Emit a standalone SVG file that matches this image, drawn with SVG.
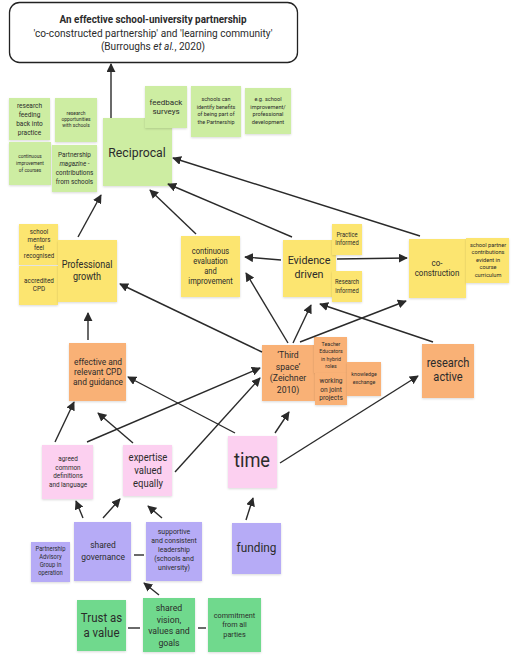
<svg xmlns="http://www.w3.org/2000/svg" width="520" height="662" viewBox="0 0 520 662">
<style>
text{font-family:Roboto,"Noto Sans","DejaVu Sans",sans-serif;fill:#2b2b2b;text-anchor:middle}
.lg{fill:#cdeda2}
.ye{fill:#fce56f}
.or{fill:#f9b176}
.pk{fill:#fcd0f0}
.pu{fill:#b6abf6}
.gr{fill:#6fd98d}
.n rect{filter:url(#sh)}
.c line{stroke:#2a2a2a;stroke-width:1.4;fill:none}
.c .a{marker-end:url(#ah)}
</style>
<defs>
<marker id="ah" viewBox="0 0 10 10" refX="9" refY="5" markerWidth="9" markerHeight="9" markerUnits="userSpaceOnUse" orient="auto">
<path d="M0,0 L10,5 L0,10 z" fill="#2a2a2a"/>
</marker>
<filter id="sh" x="-10%" y="-10%" width="130%" height="130%">
<feDropShadow dx="0" dy="1" stdDeviation="0.8" flood-color="#000" flood-opacity="0.15"/>
</filter>
</defs>
<rect width="520" height="662" fill="#fff"/>

<g id="title">
<rect x="9.5" y="2.5" width="288" height="60" rx="10" fill="#fff" stroke="#222" stroke-width="1.3"/>
<text transform="matrix(.9 0 0 1 153 0)" font-size="11" font-weight="bold"><tspan x="0" y="23">An effective school-university partnership</tspan></text>
<text transform="matrix(.92 0 0 1 153 0)" font-size="11"><tspan x="0" y="37">'co-constructed partnership' and 'learning community'</tspan><tspan x="0" y="50">(Burroughs <tspan font-style="italic">et al.</tspan>, 2020)</tspan></text>
</g>

<g class="n">
<g id="research-feeding"><rect class="lg" x="9" y="98" width="41" height="42"/>
<text transform="matrix(.91 0 0 1 29.5 0)" font-size="7.2"><tspan x="0" y="108.5">research</tspan><tspan x="0" y="117.5">feeding</tspan><tspan x="0" y="126.5">back into</tspan><tspan x="0" y="135.5">practice</tspan></text></g>
<g id="continuous-improvement-courses"><rect class="lg" x="9" y="142" width="42" height="43"/>
<text transform="matrix(.91 0 0 1 30 0)" font-size="5.2"><tspan x="0" y="158">continuous</tspan><tspan x="0" y="165">improvement</tspan><tspan x="0" y="172">of courses</tspan></text></g>
<g id="research-opportunities"><rect class="lg" x="55" y="98" width="42" height="44"/>
<text transform="matrix(.93 0 0 1 76 0)" font-size="5.3"><tspan x="0" y="114.7">research</tspan><tspan x="0" y="121">opportunities</tspan><tspan x="0" y="127.3">with schools</tspan></text></g>
<g id="partnership-magazine"><rect class="lg" x="52" y="145" width="45" height="47"/>
<text transform="matrix(.91 0 0 1 74.5 0)" font-size="7"><tspan x="0" y="157.5">Partnership</tspan><tspan x="0" y="166.2" font-style="italic">magazine -</tspan><tspan x="0" y="174.9">contributions</tspan><tspan x="0" y="183.6">from schools</tspan></text></g>
<g id="reciprocal"><rect class="lg" x="103" y="118" width="69" height="68"/>
<text transform="matrix(.91 0 0 1 137 0)" font-size="13.5"><tspan x="0" y="157">Reciprocal</tspan></text></g>
<g id="feedback-surveys"><rect class="lg" x="145" y="86" width="42" height="42"/>
<text transform="matrix(1 0 0 1 166 0)" font-size="8"><tspan x="0" y="104.5">feedback</tspan><tspan x="0" y="114">surveys</tspan></text></g>
<g id="schools-identify"><rect class="lg" x="191" y="86" width="50" height="51"/>
<text transform="matrix(.91 0 0 1 216 0)" font-size="6"><tspan x="0" y="101">schools can</tspan><tspan x="0" y="108.7">identify benefits</tspan><tspan x="0" y="116.4">of being part of</tspan><tspan x="0" y="124.1">the Partnership</tspan></text></g>
<g id="eg-school-improvement"><rect class="lg" x="245" y="88" width="46" height="46"/>
<text transform="matrix(.91 0 0 1 268 0)" font-size="6.2"><tspan x="0" y="101">e.g. school</tspan><tspan x="0" y="108.7">improvement/</tspan><tspan x="0" y="116.4">professional</tspan><tspan x="0" y="124.1">development</tspan></text></g>

<g id="mentors-recognised"><rect class="ye" x="19" y="224" width="39" height="41"/>
<text transform="matrix(.92 0 0 1 39 0)" font-size="6.7"><tspan x="0" y="234">school</tspan><tspan x="0" y="242">mentors</tspan><tspan x="0" y="250">feel</tspan><tspan x="0" y="258">recognised</tspan></text></g>
<g id="accredited-cpd"><rect class="ye" x="19" y="266" width="39" height="39"/>
<text transform="matrix(.91 0 0 1 39 0)" font-size="7"><tspan x="0" y="283">accredited</tspan><tspan x="0" y="291.5">CPD</tspan></text></g>
<g id="professional-growth"><rect class="ye" x="58" y="240" width="59" height="62"/>
<text transform="matrix(.91 0 0 1 87 0)" font-size="10"><tspan x="0" y="268">Professional</tspan><tspan x="0" y="280">growth</tspan></text></g>
<g id="continuous-evaluation"><rect class="ye" x="181" y="236" width="59" height="61"/>
<text transform="matrix(.91 0 0 1 210.5 0)" font-size="8.3"><tspan x="0" y="254">continuous</tspan><tspan x="0" y="264">evaluation</tspan><tspan x="0" y="274">and</tspan><tspan x="0" y="284">improvement</tspan></text></g>
<g id="evidence-driven"><rect class="ye" x="283" y="240" width="53" height="57"/>
<text transform="matrix(.91 0 0 1 309 0)" font-size="11.8"><tspan x="0" y="264">Evidence</tspan><tspan x="0" y="278">driven</tspan></text></g>
<g id="practice-informed"><rect class="ye" x="332" y="224" width="30" height="31"/>
<text transform="matrix(.91 0 0 1 347 0)" font-size="6.4"><tspan x="0" y="237">Practice</tspan><tspan x="0" y="245">informed</tspan></text></g>
<g id="research-informed"><rect class="ye" x="332" y="271" width="30" height="31"/>
<text transform="matrix(.91 0 0 1 347 0)" font-size="6.4"><tspan x="0" y="284">Research</tspan><tspan x="0" y="293">informed</tspan></text></g>
<g id="co-construction"><rect class="ye" x="409" y="239" width="57" height="59"/>
<text transform="matrix(.95 0 0 1 437 0)" font-size="8.4"><tspan x="0" y="266">co-</tspan><tspan x="0" y="276">construction</tspan></text></g>
<g id="school-partner-contributions"><rect class="ye" x="466" y="238" width="43" height="45"/>
<text transform="matrix(.91 0 0 1 488 0)" font-size="6.2"><tspan x="0" y="247">school partner</tspan><tspan x="0" y="254.5">contributions</tspan><tspan x="0" y="262">evident in</tspan><tspan x="0" y="269.5">course</tspan><tspan x="0" y="277">curriculum</tspan></text></g>

<g id="effective-cpd"><rect class="or" x="69" y="343" width="57" height="58"/>
<text transform="matrix(.985 0 0 1 98 0)" font-size="8.5"><tspan x="0" y="365">effective and</tspan><tspan x="0" y="375">relevant CPD</tspan><tspan x="0" y="385">and guidance</tspan></text></g>
<g id="third-space"><rect class="or" x="262" y="345" width="53" height="56"/>
<text transform="matrix(.91 0 0 1 288 0)" font-size="9.5"><tspan x="0" y="358.5">‘Third</tspan><tspan x="0" y="370">space’</tspan><tspan x="0" y="381.5">(Zeichner</tspan><tspan x="0" y="393">2010)</tspan></text></g>
<g id="teacher-educators"><rect class="or" x="314" y="337" width="33" height="36"/>
<text transform="matrix(.91 0 0 1 331 0)" font-size="5.8"><tspan x="0" y="346">Teacher</tspan><tspan x="0" y="353.5">Educators</tspan><tspan x="0" y="361">in hybrid</tspan><tspan x="0" y="368.5">roles</tspan></text></g>
<g id="joint-projects"><rect class="or" x="315" y="373" width="32" height="32"/>
<text transform="matrix(.91 0 0 1 331 0)" font-size="7.2"><tspan x="0" y="383.5">working</tspan><tspan x="0" y="392">on joint</tspan><tspan x="0" y="400.5">projects</tspan></text></g>
<g id="knowledge-exchange"><rect class="or" x="347" y="362" width="34" height="34"/>
<text transform="matrix(.91 0 0 1 364 0)" font-size="5.8"><tspan x="0" y="376">knowledge</tspan><tspan x="0" y="384">exchange</tspan></text></g>
<g id="research-active"><rect class="or" x="422" y="344" width="52" height="54"/>
<text transform="matrix(.93 0 0 1 448 0)" font-size="11.9"><tspan x="0" y="367">research</tspan><tspan x="0" y="381">active</tspan></text></g>

<g id="agreed-definitions"><rect class="pk" x="42" y="445" width="51" height="54"/>
<text transform="matrix(.91 0 0 1 68 0)" font-size="7"><tspan x="0" y="461.5">agreed</tspan><tspan x="0" y="470">common</tspan><tspan x="0" y="478.5">definitions</tspan><tspan x="0" y="487">and  language</tspan></text></g>
<g id="expertise-valued"><rect class="pk" x="123" y="445" width="49" height="51"/>
<text transform="matrix(.91 0 0 1 148 0)" font-size="10.4"><tspan x="0" y="461">expertise</tspan><tspan x="0" y="474">valued</tspan><tspan x="0" y="487">equally</tspan></text></g>
<g id="time"><rect class="pk" x="228" y="436" width="49" height="52"/>
<text transform="matrix(.91 0 0 1 252 0)" font-size="20"><tspan x="0" y="467">time</tspan></text></g>

<g id="advisory-group"><rect class="pu" x="31" y="542" width="39" height="40"/>
<text transform="matrix(.91 0 0 1 50.5 0)" font-size="6.4"><tspan x="0" y="551">Partnership</tspan><tspan x="0" y="559">Advisory</tspan><tspan x="0" y="567">Group in</tspan><tspan x="0" y="575">operation</tspan></text></g>
<g id="shared-governance"><rect class="pu" x="74" y="522" width="57" height="59"/>
<text transform="matrix(.91 0 0 1 103 0)" font-size="9.3"><tspan x="0" y="548">shared</tspan><tspan x="0" y="560">governance</tspan></text></g>
<g id="supportive-leadership"><rect class="pu" x="146" y="522" width="56" height="59"/>
<text transform="matrix(.91 0 0 1 174 0)" font-size="7.6"><tspan x="0" y="534.5">supportive</tspan><tspan x="0" y="543.5">and consistent</tspan><tspan x="0" y="552.5">leadership</tspan><tspan x="0" y="561.5">(schools and</tspan><tspan x="0" y="570.5">university)</tspan></text></g>
<g id="funding"><rect class="pu" x="232" y="523" width="49" height="51"/>
<text transform="matrix(.91 0 0 1 256.5 0)" font-size="13"><tspan x="0" y="552">funding</tspan></text></g>

<g id="trust"><rect class="gr" x="77" y="600" width="49" height="51"/>
<text transform="matrix(.91 0 0 1 101.5 0)" font-size="12.6"><tspan x="0" y="622">Trust as</tspan><tspan x="0" y="637">a value</tspan></text></g>
<g id="shared-vision"><rect class="gr" x="143" y="598" width="52" height="54"/>
<text transform="matrix(.91 0 0 1 169 0)" font-size="9.6"><tspan x="0" y="611.5">shared</tspan><tspan x="0" y="623">vision,</tspan><tspan x="0" y="634.5">values and</tspan><tspan x="0" y="646">goals</tspan></text></g>
<g id="commitment"><rect class="gr" x="208" y="598" width="53" height="54"/>
<text transform="matrix(.91 0 0 1 234.5 0)" font-size="8"><tspan x="0" y="618">commitment</tspan><tspan x="0" y="627.5">from all</tspan><tspan x="0" y="637">parties</tspan></text></g>
</g>

<g id="connectors" class="c">
<line class="a" x1="111" y1="118" x2="111" y2="64"/>
<line class="a" x1="78" y1="237" x2="101" y2="195"/>
<line class="a" x1="196" y1="234" x2="150" y2="190"/>
<line class="a" x1="292" y1="237" x2="168" y2="184"/>
<line class="a" x1="420" y1="236" x2="173" y2="158"/>
<line class="a" x1="281" y1="260" x2="245" y2="257"/>
<line class="a" x1="288" y1="343" x2="246" y2="273"/>
<line class="a" x1="337" y1="259" x2="407" y2="258"/>
<line class="a" x1="293" y1="343" x2="311" y2="305"/>
<line class="a" x1="300" y1="342" x2="406" y2="301"/>
<line class="a" x1="433" y1="342" x2="320" y2="304"/>
<line class="a" x1="262" y1="352" x2="120" y2="284"/>
<line class="a" x1="88" y1="340" x2="88" y2="313"/>
<line class="a" x1="235" y1="433" x2="128" y2="377"/>
<line class="a" x1="87" y1="442" x2="260" y2="368"/>
<line class="a" x1="175" y1="472" x2="260" y2="378"/>
<line class="a" x1="133" y1="443" x2="98" y2="413"/>
<line class="a" x1="55" y1="442" x2="74" y2="402"/>
<line class="a" x1="275" y1="433" x2="289" y2="412"/>
<line class="a" x1="280" y1="463" x2="418" y2="376"/>
<line class="a" x1="83" y1="518" x2="76" y2="501"/>
<line class="a" x1="103" y1="518" x2="120" y2="499"/>
<line class="a" x1="162" y1="518" x2="148" y2="506"/>
<line class="a" x1="159" y1="595" x2="144" y2="583"/>
<line class="a" x1="246" y1="520" x2="253" y2="498"/>
<line x1="128" y1="628" x2="140" y2="628"/>
<line x1="198" y1="628" x2="206" y2="628"/>
<line x1="134" y1="555" x2="144" y2="555"/>
</g>
</svg>
